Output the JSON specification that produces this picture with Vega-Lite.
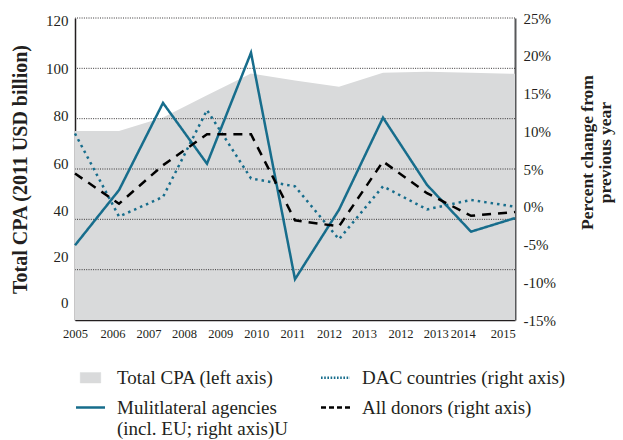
{
  "$schema": "https://vega.github.io/schema/vega-lite/v6.json",
  "width": 440,
  "height": 302,
  "autosize": {"type": "none"},
  "padding": {"left": 75, "top": 18, "right": 108, "bottom": 120},
  "background": "#ffffff",
  "config": {
    "font": "Liberation Serif",
    "view": {"stroke": null},
    "axis": {"labelColor": "#231f20", "titleColor": "#231f20", "labelFont": "Liberation Serif", "titleFont": "Liberation Serif", "labelOverlap": false},
    "axisX": {"labelOverlap": false, "labelFlush": false}
  },
  "datasets": {
    "cpa": [
      {"year": 2005, "cpa": 75.1, "series": "Total CPA (left axis)"},
      {"year": 2006, "cpa": 75.1, "series": "Total CPA (left axis)"},
      {"year": 2007, "cpa": 80.5, "series": "Total CPA (left axis)"},
      {"year": 2008, "cpa": 89.3, "series": "Total CPA (left axis)"},
      {"year": 2009, "cpa": 97.9, "series": "Total CPA (left axis)"},
      {"year": 2010, "cpa": 95.2, "series": "Total CPA (left axis)"},
      {"year": 2011, "cpa": 92.7, "series": "Total CPA (left axis)"},
      {"year": 2012, "cpa": 98.2, "series": "Total CPA (left axis)"},
      {"year": 2013, "cpa": 98.6, "series": "Total CPA (left axis)"},
      {"year": 2014, "cpa": 98.2, "series": "Total CPA (left axis)"},
      {"year": 2015, "cpa": 97.8, "series": "Total CPA (left axis)"}
    ],
    "grid": [{"g": 20}, {"g": 40}, {"g": 60}, {"g": 80}, {"g": 100}, {"g": 120}],
    "change": [
      {"year": 2005, "series": "Mulitlateral agencies (incl. EU; right axis)U", "pct": -5.1},
      {"year": 2006, "series": "Mulitlateral agencies (incl. EU; right axis)U", "pct": 2.2},
      {"year": 2007, "series": "Mulitlateral agencies (incl. EU; right axis)U", "pct": 13.75},
      {"year": 2008, "series": "Mulitlateral agencies (incl. EU; right axis)U", "pct": 5.7},
      {"year": 2009, "series": "Mulitlateral agencies (incl. EU; right axis)U", "pct": 20.4},
      {"year": 2010, "series": "Mulitlateral agencies (incl. EU; right axis)U", "pct": -9.6},
      {"year": 2011, "series": "Mulitlateral agencies (incl. EU; right axis)U", "pct": -0.4},
      {"year": 2012, "series": "Mulitlateral agencies (incl. EU; right axis)U", "pct": 11.8},
      {"year": 2013, "series": "Mulitlateral agencies (incl. EU; right axis)U", "pct": 2.9},
      {"year": 2014, "series": "Mulitlateral agencies (incl. EU; right axis)U", "pct": -3.3},
      {"year": 2015, "series": "Mulitlateral agencies (incl. EU; right axis)U", "pct": -1.5},
      {"year": 2005, "series": "DAC countries (right axis)", "pct": 9.7},
      {"year": 2006, "series": "DAC countries (right axis)", "pct": -1.3},
      {"year": 2007, "series": "DAC countries (right axis)", "pct": 1.3},
      {"year": 2008, "series": "DAC countries (right axis)", "pct": 12.8},
      {"year": 2009, "series": "DAC countries (right axis)", "pct": 3.75},
      {"year": 2010, "series": "DAC countries (right axis)", "pct": 2.7},
      {"year": 2011, "series": "DAC countries (right axis)", "pct": -4.3},
      {"year": 2012, "series": "DAC countries (right axis)", "pct": 2.7},
      {"year": 2013, "series": "DAC countries (right axis)", "pct": -0.35},
      {"year": 2014, "series": "DAC countries (right axis)", "pct": 0.9},
      {"year": 2015, "series": "DAC countries (right axis)", "pct": 0.0},
      {"year": 2005, "series": "All donors (right axis)", "pct": 4.4},
      {"year": 2006, "series": "All donors (right axis)", "pct": 0.4},
      {"year": 2007, "series": "All donors (right axis)", "pct": 5.5},
      {"year": 2008, "series": "All donors (right axis)", "pct": 9.6},
      {"year": 2009, "series": "All donors (right axis)", "pct": 9.6},
      {"year": 2010, "series": "All donors (right axis)", "pct": -1.8},
      {"year": 2011, "series": "All donors (right axis)", "pct": -2.6},
      {"year": 2012, "series": "All donors (right axis)", "pct": 6.0},
      {"year": 2013, "series": "All donors (right axis)", "pct": 1.8},
      {"year": 2014, "series": "All donors (right axis)", "pct": -1.2},
      {"year": 2015, "series": "All donors (right axis)", "pct": -0.7}
    ]
  },
  "layer": [
    {
      "data": {"name": "cpa"},
      "mark": {"type": "area", "opacity": 1},
      "encoding": {
        "x": {
          "field": "year", "type": "quantitative",
          "scale": {"domain": [2005, 2015], "nice": false, "zero": false},
          "axis": {
            "title": null, "grid": false, "ticks": false,
            "domainColor": "#231f20", "domainWidth": 1.5,
            "values": [2005, 2005.85, 2006.67, 2007.48, 2008.3, 2009.12, 2009.94, 2010.77, 2011.57, 2012.4, 2013.2, 2013.81, 2014.72],
            "labelExpr": "['2005','2006','2007','2008','2009','2010','2011','2012','2013','2012','2013','2014','2015'][indexof([2005, 2005.85, 2006.67, 2007.48, 2008.3, 2009.12, 2009.94, 2010.77, 2011.57, 2012.4, 2013.2, 2013.81, 2014.72], datum.value)]",
            "labelFlush": false, "labelOverlap": false, "labelSeparation": 0,
            "labelFontSize": 12.5, "labelPadding": 7, "labelAlign": "center"
          }
        },
        "y": {
          "field": "cpa", "type": "quantitative", "stack": null,
          "scale": {"domain": [0, 120], "nice": false},
          "axis": {
            "orient": "left",
            "values": [0, 20, 40, 60, 80, 100, 120],
            "grid": false, "ticks": false, "labelOverlap": false,
            "domainColor": "#231f20", "domainWidth": 1.5,
            "labelFontSize": 15, "labelPadding": 7,
            "labelOffset": {"expr": "[-18,-13,-9,-6,-3.5,0,2][datum.value/20]"},
            "title": "Total CPA (2011 USD billion)",
            "titleFontSize": 20, "titleFontWeight": "bold",
            "titleAngle": -90, "titleX": -55, "titleY": 151,
            "titleAlign": "center", "titleBaseline": "middle"
          }
        },
        "color": {
          "field": "series", "type": "nominal",
          "scale": {
            "domain": ["Total CPA (left axis)", "Mulitlateral agencies (incl. EU; right axis)U", "DAC countries (right axis)", "All donors (right axis)"],
            "range": ["#d9dadb", "#176d8c", "#176d8c", "#000000"]
          },
          "legend": {
            "orient": "none", "legendX": 6, "legendY": 350,
            "columns": 2, "columnPadding": 28, "rowPadding": 10, "padding": 0,
            "title": null,
            "labelFontSize": 19, "labelFont": "Liberation Serif", "labelColor": "#231f20",
            "labelLimit": 400, "labelOffset": 17,
            "symbolSize": 841,
            "symbolType": {"expr": "datum.value == 'Total CPA (left axis)' ? 'M-0.707,-0.36L0.707,-0.36L0.707,0.36L-0.707,0.36Z' : 'stroke'"},
            "symbolDash": {"expr": "datum.value == 'DAC countries (right axis)' ? [1.6, 1.6] : (datum.value == 'All donors (right axis)' ? [5, 3] : [1, 0])"},
            "symbolStrokeWidth": {"expr": "datum.value == 'Total CPA (left axis)' ? 0.5 : 2.5"},
            "labelExpr": "datum.label == 'Mulitlateral agencies (incl. EU; right axis)U' ? ['Mulitlateral agencies', '(incl. EU; right axis)U'] : datum.label"
          }
        }
      }
    },
    {
      "data": {"name": "grid"},
      "mark": {"type": "rule", "color": "#231f20", "strokeWidth": 0.9, "strokeDash": [1, 1.3]},
      "encoding": {
        "y": {"field": "g", "type": "quantitative", "scale": {"domain": [0, 120], "nice": false}, "axis": null}
      }
    },
    {
      "data": {"name": "change"},
      "mark": {"type": "line", "strokeWidth": 2.5},
      "encoding": {
        "x": {
          "field": "year", "type": "quantitative",
          "scale": {"domain": [2005, 2015], "nice": false, "zero": false},
          "axis": {
            "title": null, "grid": false, "ticks": false,
            "domainColor": "#231f20", "domainWidth": 1.5,
            "values": [2005, 2005.85, 2006.67, 2007.48, 2008.3, 2009.12, 2009.94, 2010.77, 2011.57, 2012.4, 2013.2, 2013.81, 2014.72],
            "labelExpr": "['2005','2006','2007','2008','2009','2010','2011','2012','2013','2012','2013','2014','2015'][indexof([2005, 2005.85, 2006.67, 2007.48, 2008.3, 2009.12, 2009.94, 2010.77, 2011.57, 2012.4, 2013.2, 2013.81, 2014.72], datum.value)]",
            "labelFlush": false, "labelOverlap": false, "labelSeparation": 0,
            "labelFontSize": 12.5, "labelPadding": 7, "labelAlign": "center"
          }
        },
        "y": {
          "field": "pct", "type": "quantitative",
          "scale": {"domain": [-15, 25], "nice": false, "zero": false},
          "axis": {
            "orient": "right",
            "values": [-15, -10, -5, 0, 5, 10, 15, 20, 25],
            "labelExpr": "datum.value + '%'",
            "grid": false, "ticks": false, "labelOverlap": false,
            "domainColor": "#58595b", "domainWidth": 2,
            "labelFontSize": 15, "labelPadding": 8,
            "title": ["Percent change from", "previous year"],
            "titleFontSize": 17.5, "titleFontWeight": "bold",
            "titleAngle": -90, "titleX": 72, "titleY": 134,
            "titleAlign": "center", "titleBaseline": "middle", "titleLineHeight": 18
          }
        },
        "color": {"field": "series", "type": "nominal", "legend": null},
        "strokeDash": {
          "field": "series", "type": "nominal",
          "scale": {
            "domain": ["Mulitlateral agencies (incl. EU; right axis)U", "DAC countries (right axis)", "All donors (right axis)"],
            "range": [[1, 0], [2.5, 4], [9, 7]]
          },
          "legend": null
        }
      }
    }
  ],
  "resolve": {"scale": {"y": "independent"}}
}
